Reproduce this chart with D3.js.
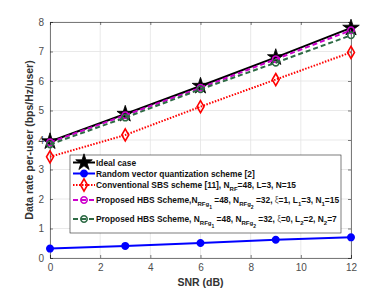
<!DOCTYPE html>
<html>
<head>
<meta charset="utf-8">
<script src="https://cdn.jsdelivr.net/npm/d3@7"></script>
<style>
  body { margin: 0; background: #fff; }
  svg { font-family: 'Liberation Sans', Arial, sans-serif; }
</style>
</head>
<body>
<svg id="chart"></svg>
<script>
const width = 388
const height = 291

const snr = [0, 3, 6, 9, 12]
const ideal = [3.95, 4.88, 5.83, 6.8, 7.8]
const rvq = [0.32, 0.41, 0.51, 0.62, 0.7]
const sbs = [3.43, 4.17, 5.13, 6.05, 6.97]
const hbs1 = [3.92, 4.84, 5.77, 6.74, 7.72]
const hbs2 = [3.85, 4.76, 5.72, 6.62, 7.55]
const xTicks = [0, 2, 4, 6, 8, 10, 12]
const yTicks = [0, 1, 2, 3, 4, 5, 6, 7, 8]

const series = [
  { values: ideal, color: '#000000', dash: null, marker: 'star', fill: '#000000' },
  { values: rvq, color: '#0000ff', dash: null, marker: 'circle', fill: '#0000ff' },
  { values: sbs, color: '#ff0000', dash: '1.5,1.5', marker: 'diamond', fill: 'none' },
  { values: hbs1, color: '#cc00cc', dash: '5,3', marker: 'circle', fill: 'none' },
  { values: hbs2, color: '#2e6b45', dash: '5,3', marker: 'circle', fill: 'none' },
]

const margin = { top: 22, right: 37, bottom: 33, left: 50 }

const svg = d3.select('#chart').attr('width', width).attr('height', height)

const x = d3.scaleLinear().domain([0, 12]).range([margin.left, width - margin.right])
const y = d3.scaleLinear().domain([0, 8]).range([height - margin.bottom, margin.top])

// grid
svg.append('g')
  .selectAll('line')
  .data(xTicks)
  .join('line')
  .attr('x1', (d) => x(d)).attr('x2', (d) => x(d))
  .attr('y1', y(0)).attr('y2', y(8))
  .attr('stroke', '#e3e3e3').attr('stroke-width', 0.8)
svg.append('g')
  .selectAll('line')
  .data(yTicks)
  .join('line')
  .attr('y1', (d) => y(d)).attr('y2', (d) => y(d))
  .attr('x1', x(0)).attr('x2', x(12))
  .attr('stroke', '#e3e3e3').attr('stroke-width', 0.8)

// axes
const xAxis = svg.append('g')
  .attr('transform', `translate(0,${y(0)})`)
  .call(d3.axisBottom(x).tickValues(xTicks).tickSize(-3).tickPadding(6))
const xAxisTop = svg.append('g')
  .attr('transform', `translate(0,${y(8)})`)
  .call(d3.axisTop(x).tickValues(xTicks).tickSize(-3).tickFormat(''))
const yAxis = svg.append('g')
  .attr('transform', `translate(${x(0)},0)`)
  .call(d3.axisLeft(y).tickValues(yTicks).tickSize(-3).tickPadding(6))
const yAxisRight = svg.append('g')
  .attr('transform', `translate(${x(12)},0)`)
  .call(d3.axisRight(y).tickValues(yTicks).tickSize(-3).tickFormat(''))

;[xAxis, xAxisTop, yAxis, yAxisRight].forEach((a) => {
  a.selectAll('path, line').attr('stroke', '#262626').attr('stroke-width', 0.6)
  a.selectAll('text').attr('fill', '#4d4d4d').style('font-size', '10px')
})

// labels
svg.append('text')
  .attr('x', x(6)).attr('y', height - 5)
  .attr('text-anchor', 'middle')
  .style('font-size', '10.5px').style('font-weight', 'bold').attr('fill', '#333')
  .text('SNR (dB)')
svg.append('text')
  .attr('transform', `translate(33,${y(4)}) rotate(-90)`)
  .attr('text-anchor', 'middle')
  .style('font-size', '10.5px').style('font-weight', 'bold').attr('fill', '#333')
  .text('Data rate per-user (bps/Hz/user)')

// lines
const line = d3.line()
  .x((d, i) => x(snr[i]))
  .y((d) => y(d))

const symbols = {
  star: d3.symbol().type(d3.symbolStar).size(85),
  circle: d3.symbol().type(d3.symbolCircle).size(32),
  diamond: d3.symbol().type(d3.symbolDiamond).size(42),
}

function drawMarker(g, s, cx, cy) {
  g.append('path')
    .attr('d', symbols[s.marker]())
    .attr('transform', `translate(${cx},${cy})`)
    .attr('fill', s.fill)
    .attr('stroke', s.color)
    .attr('stroke-width', s.marker === 'star' ? 0.8 : 1.6)
}

const plot = svg.append('g')
series.forEach((s) => {
  plot.append('path')
    .datum(s.values)
    .attr('d', line)
    .attr('fill', 'none')
    .attr('stroke', s.color)
    .attr('stroke-width', 2)
    .attr('stroke-dasharray', s.dash)
  s.values.forEach((v, i) => drawMarker(plot, s, x(snr[i]), y(v)))
})

// legend
const legend = svg.append('g')
legend.append('rect')
  .attr('x', 70).attr('y', 155).attr('width', 271).attr('height', 78)
  .attr('fill', '#fff').attr('stroke', '#262626').attr('stroke-width', 0.6)

const legendY = [162.5, 173.5, 185, 200, 219]
const legendText = [
  [{ t: 'Ideal case' }],
  [{ t: 'Random vector quantization scheme [2]' }],
  [{ t: 'Conventional SBS scheme [11], N' }, { t: 'RF', sub: 1 }, { t: '=48, L=3, N=15' }],
  [{ t: 'Proposed HBS Scheme,N' }, { t: 'RFg', sub: 1 }, { t: '1', sub: 2 }, { t: ' =48, N' }, { t: 'RFg', sub: 1 }, { t: '2', sub: 2 },
    { t: ' =32, ' }, { t: 'ξ', light: true }, { t: '=1, L' }, { t: '1', sub: 1 }, { t: '=3, N' }, { t: '1', sub: 1 }, { t: '=15' }],
  [{ t: 'Proposed HBS Scheme,  N' }, { t: 'RFg', sub: 1 }, { t: '1', sub: 2 }, { t: ' =48, N' }, { t: 'RFg', sub: 1 }, { t: '2', sub: 2 },
    { t: ' =32, ' }, { t: 'ξ', light: true }, { t: '=0, L' }, { t: '2', sub: 1 }, { t: '=2, N' }, { t: '2', sub: 1 }, { t: '=7' }],
]

series.forEach((s, i) => {
  const ly = legendY[i]
  legend.append('line')
    .attr('x1', 73).attr('x2', 95).attr('y1', ly).attr('y2', ly)
    .attr('stroke', s.color).attr('stroke-width', 2)
    .attr('stroke-dasharray', s.dash)
  drawMarker(legend, s, 84, ly)
  const txt = legend.append('text')
    .attr('x', 96).attr('y', ly + 3.2)
    .style('font-size', '8.4px').style('font-weight', 'bold').attr('fill', '#111')
  // subscripts shift the baseline down; the next normal part shifts it back
  let offset = 0
  legendText[i].forEach((p) => {
    const ts = txt.append('tspan').text(p.t)
    if (p.sub === 1) {
      ts.attr('dy', 3).style('font-size', '6px')
      offset += 3
    } else if (p.sub === 2) {
      ts.attr('dy', 2.5).style('font-size', '5px')
      offset += 2.5
    } else {
      if (offset !== 0) { ts.attr('dy', -offset); offset = 0 }
      if (p.light) ts.style('font-weight', 'normal').attr('fill', '#555')
    }
  })
})
</script>
</body>
</html>
